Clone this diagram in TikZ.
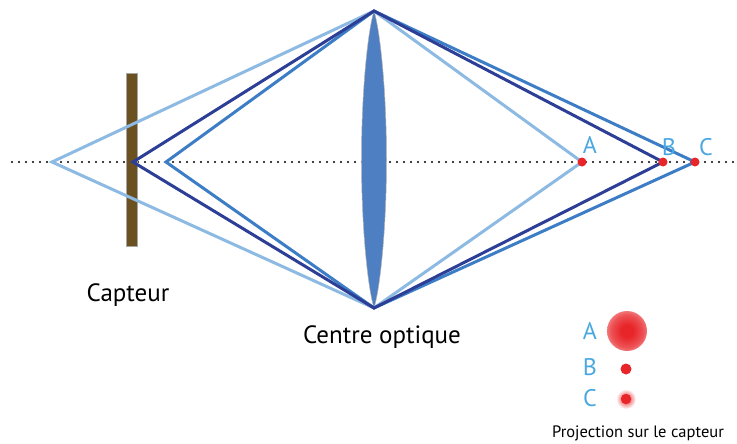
\documentclass[tikz,border=0pt]{standalone}
\usepackage{fontspec}
\setmainfont{PT Sans}
\begin{document}
\begin{tikzpicture}[x=1pt,y=-1pt,
  lb/.style={line width=3pt,color=rayL,line join=miter},
  mb/.style={line width=3pt,color=rayM,line join=miter},
  db/.style={line width=3pt,color=rayD,line join=miter},
  lab/.style={text=labblue,font=\fontsize{24}{28}\selectfont,inner sep=0pt},
  captext/.style={text=black,font=\fontsize{25}{30}\selectfont,inner sep=0pt},
  dot/.style={circle,fill=dotred,inner sep=0pt,minimum size=9pt}]
\definecolor{rayL}{HTML}{8DBAE3}
\definecolor{rayM}{HTML}{3C7DC6}
\definecolor{rayD}{HTML}{2C3E96}
\definecolor{labblue}{HTML}{4AA8E0}
\definecolor{dotred}{HTML}{E8262A}
\definecolor{lensblue}{HTML}{4F7FC3}
\definecolor{sensor}{HTML}{6B5020}
\pgfdeclareradialshading{blob}{\pgfpoint{0bp}{0bp}}{color(0bp)=(dotred);color(8bp)=(dotred);color(20bp)=(dotred!80);color(32bp)=(dotred!40);color(42bp)=(dotred!12);color(50bp)=(white)}
\useasboundingbox (0,0) rectangle (737,444);
% optical axis
\coordinate (ax0) at (12,162);
\coordinate (ax1) at (737,162);
\draw[line width=2.4pt,line cap=round,dash pattern=on 0pt off 7pt] (ax0) -- (ax1);
% sensor
\node[draw=gray!70,fill=sensor,line width=0.6pt,minimum width=11pt,minimum height=173pt,inner sep=0pt] (sens) at (131.5,159.5) {};
% lens
\coordinate (top) at (374,11);
\coordinate (bot) at (374,308);
\coordinate (lr) at (386.5,159.5);
\coordinate (ll) at (361.5,159.5);
\fill[lensblue,draw=gray!60,line width=0.5pt] (top) .. controls (380,30) and (386.5,90) .. (lr) .. controls (386.5,229) and (380,289) .. (bot) .. controls (368,289) and (361.5,229) .. (ll) .. controls (361.5,90) and (368,30) .. (top) -- cycle;
% convergence points
\coordinate (pL) at (52,162);
\coordinate (pD) at (133,162);
\coordinate (pM) at (166,162);
\coordinate (A) at (582,162);
\coordinate (B) at (663,162);
\coordinate (C) at (695,162);
% rays
\draw[lb] (A) -- (top) -- (pL) -- (bot) -- cycle;
\draw[mb] (C) -- (top) -- (pM) -- (bot) -- cycle;
\draw[db] (B) -- (top) -- (pD) -- (bot) -- cycle;
% dots
\node[dot] (dA) at (A) {};
\node[dot] (dB) at (B) {};
\node[dot] (dC) at (C) {};
\node[lab] (tA) at (590,145) {A};
\node[lab] (tB) at (669,147) {B};
\node[lab] (tC) at (706,147) {C};
% captions
\node[captext] (capteur) at (128,295) {Capteur};
\node[captext] (centre) at (382,337) {Centre optique};
% legend
\node[lab] (lA) at (590,331) {A};
\node[lab] (lB) at (590,367) {B};
\node[lab] (lC) at (590,398) {C};
\shade[shading=blob] (627,331) circle (20);
\node[dot,minimum size=11pt] (sB) at (626,369) {};
\shade[inner color=dotred,outer color=white] (626,399) circle (10);
\node[dot,minimum size=10.5pt] (sC) at (626,399) {};
\node[text=black,font=\fontsize{16.5}{20}\selectfont,inner sep=0pt] (proj) at (638,433) {Projection sur le capteur};
\end{tikzpicture}
\end{document}
